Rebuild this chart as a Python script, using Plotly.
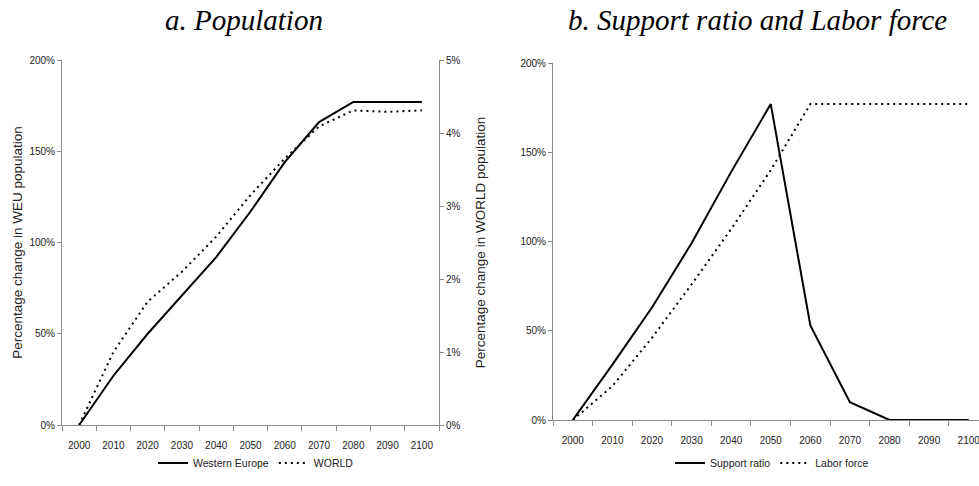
import plotly.graph_objects as go

years = [str(y) for y in range(2000, 2101, 10)]

# Panel a: Population
weu_pct = [0, 27, 50, 71, 92, 117, 144, 166, 177, 177, 177]          # % change, left axis
world_pct = [0, 1.0, 1.69, 2.1, 2.58, 3.15, 3.65, 4.09, 4.31, 4.29, 4.31]  # % change, right axis

# Panel b: Support ratio and Labor force
support_ratio = [0, 31, 63, 99, 139, 177, 53, 10, 0, 0, 0]
labor_force = [0, 19, 46, 76, 107, 140, 177, 177, 177, 177, 177]

left_ticks = [0, 50, 100, 150, 200]
world_ticks = [0, 1, 2, 3, 4, 5]

W, H = 979, 486
def fx(px):
    return px / W
def fy(py):
    return (H - py) / H

AX = "#8c8c8c"
TXT = "#222222"
TICKF = dict(family="Liberation Sans, Arial, sans-serif", size=10, color=TXT)
DOT = "2px,4px"

fig = go.Figure()

fig.add_trace(go.Scatter(x=years, y=weu_pct, mode="lines", name="Western Europe",
                         line=dict(color="black", width=2), xaxis="x", yaxis="y",
                         legend="legend"))
fig.add_trace(go.Scatter(x=years, y=world_pct, mode="lines", name="WORLD",
                         line=dict(color="black", width=2, dash=DOT), xaxis="x", yaxis="y3",
                         legend="legend"))
fig.add_trace(go.Scatter(x=years, y=support_ratio, mode="lines", name="Support ratio",
                         line=dict(color="black", width=2), xaxis="x2", yaxis="y2",
                         legend="legend2"))
fig.add_trace(go.Scatter(x=years, y=labor_force, mode="lines", name="Labor force",
                         line=dict(color="black", width=2, dash=DOT), xaxis="x2", yaxis="y2",
                         legend="legend2"))

xcommon = dict(type="category", categoryorder="array", categoryarray=years,
               showline=True, linecolor=AX, linewidth=1, ticks="outside", ticklen=5,
               tickcolor=AX, tickson="boundaries", showgrid=False, zeroline=False,
               tickfont=TICKF, automargin=False, fixedrange=True, ticklabelstandoff=11)

ycommon = dict(showline=True, linecolor=AX, linewidth=1, ticks="outside", ticklen=4,
               tickcolor=AX, showgrid=False, zeroline=False, tickfont=TICKF,
               automargin=False, fixedrange=True, tickmode="array")

fig.update_layout(
    width=W, height=H,
    margin=dict(l=0, r=0, t=0, b=0),
    plot_bgcolor="white", paper_bgcolor="white",
    font=dict(family="Liberation Sans, Arial, sans-serif", color=TXT),
    xaxis=dict(domain=[fx(62), fx(439)], anchor="y", range=[-0.5, 10.5], **xcommon),
    yaxis=dict(domain=[fy(425), fy(60)], anchor="x", range=[0, 200],
               tickvals=left_ticks, ticktext=[f"{v}%" for v in left_ticks],
               title=dict(text="Percentage change in WEU population",
                          font=dict(size=13.5, color=TXT), standoff=3), **ycommon),
    yaxis3=dict(overlaying="y", side="right", anchor="x", range=[0, 5],
                tickvals=world_ticks, ticktext=[f"{v}%" for v in world_ticks],
                title=dict(text="Percentage change in WORLD population",
                           font=dict(size=13.5, color=TXT), standoff=15), **ycommon),
    xaxis2=dict(domain=[fx(553), 1.0], anchor="y2", range=[-0.5, 10.26], **xcommon),
    yaxis2=dict(domain=[fy(420), fy(63)], anchor="x2", range=[0, 200],
                tickvals=left_ticks, ticktext=[f"{v}%" for v in left_ticks], **ycommon),
    legend=dict(orientation="h", x=fx(256), xanchor="center", y=fy(463), yanchor="middle",
                font=dict(size=10.5, color=TXT), itemwidth=30, bgcolor="rgba(0,0,0,0)"),
    legend2=dict(orientation="h", x=fx(772), xanchor="center", y=fy(463), yanchor="middle",
                 font=dict(size=10.5, color=TXT), itemwidth=30, bgcolor="rgba(0,0,0,0)"),
    annotations=[
        dict(text="<i>a. Population</i>", x=fx(244), y=fy(20), xref="paper", yref="paper",
             xanchor="center", yanchor="middle", showarrow=False,
             font=dict(family="Liberation Serif, Times New Roman, serif", size=29, color="black")),
        dict(text="<i>b. Support ratio and Labor force</i>", x=fx(757), y=fy(20),
             xref="paper", yref="paper", xanchor="center", yanchor="middle", showarrow=False,
             font=dict(family="Liberation Serif, Times New Roman, serif", size=29, color="black")),
    ],
    showlegend=True,
)

fig.write_html("out.html")
